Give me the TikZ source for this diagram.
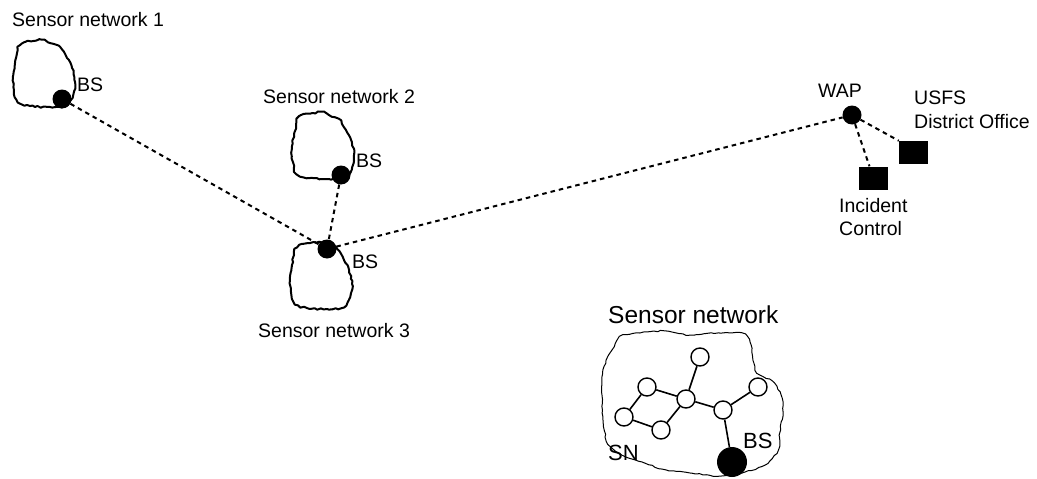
\documentclass[tikz,border=0pt]{standalone}
\usepackage{fontspec}
\setmainfont{Liberation Sans}
\usetikzlibrary{decorations.pathmorphing}
\begin{document}
\begin{tikzpicture}[x=1pt,y=-1pt,
  lbl/.style={anchor=base west,inner sep=0pt,font=\fontsize{19.5}{24}\selectfont},
  titlelbl/.style={anchor=base west,inner sep=0pt,font=\fontsize{24.5}{29}\selectfont},
  netlbl/.style={anchor=base west,inner sep=0pt,font=\fontsize{22}{26}\selectfont},
  station/.style={circle,fill=black,inner sep=0pt,minimum size=19pt},
  bigstation/.style={circle,fill=black,inner sep=0pt,minimum size=30pt},
  office/.style={rectangle,fill=black,inner sep=0pt,minimum width=29pt,minimum height=23pt},
  sensor/.style={circle,draw=black,fill=white,line width=1.4pt,inner sep=0pt,minimum size=18pt},
  link/.style={line width=2pt,dash pattern=on 4.5pt off 4pt},
  wire/.style={line width=1.6pt},
  cloudline/.style={line width=2pt,line join=round,decorate,
    decoration={random steps,segment length=3pt,amplitude=0.8pt}},
  bigcloudline/.style={line width=1pt,line join=round,decorate,
    decoration={random steps,segment length=3.5pt,amplitude=0.7pt}},
  pics/smallcloud/.style={code={
    \draw[cloudline] plot[smooth cycle,tension=0.55] coordinates {
      (5,7) (12,2) (20,1) (29,0) (37,3) (47,7) (54,18) (59,28) (62,42)
      (60,55) (54,65) (37,67) (17,66) (5,62) (1,50) (0,37) (2,23) (4,13)};
  }}
]
\pgfmathsetseed{7}
\path[use as bounding box] (0,0) rectangle (1037,479);

% three small sensor networks
\pic at (13,40) {smallcloud};
\pic at (292,112) {smallcloud};
\pic at (290,242) {smallcloud};

\node[lbl] (t1) at (12,27) {Sensor network 1};
\node[lbl] (t2) at (263,103) {Sensor network 2};
\node[lbl] (t3) at (258,337) {Sensor network 3};

\node[station] (bs1) at (62,99) {};
\node[station] (bs2) at (341,175) {};
\node[station] (bs3) at (327,249) {};
\node[lbl] (l1) at (77,91) {BS};
\node[lbl] (l2) at (356,167) {BS};
\node[lbl] (l3) at (352,268) {BS};

% wireless access point and offices
\node[station] (wap) at (852,115) {};
\node[lbl] (lwap) at (818,97) {WAP};
\node[office] (usfs) at (913.5,152.5) {};
\node[office] (inc) at (873.5,178) {};
\node[lbl] (usfs1) at (914,104) {USFS};
\node[lbl] (usfs2) at (914,128) {District Office};
\node[lbl] (inc1) at (839,212) {Incident};
\node[lbl] (inc2) at (839,235) {Control};

\draw[link] (bs1) -- (bs3);
\draw[link] (bs2) -- (bs3);
\draw[link] (bs3) -- (wap);
\draw[link] (wap) -- (usfs.north west);
\draw[link] (wap) -- (inc);

% detailed sensor network
\draw[bigcloudline] plot[smooth cycle,tension=0.5] coordinates {
  (620,337) (640,333) (665,331) (690,335) (718,333) (742,333) (750,342)
  (753,360) (757,373) (772,381) (781,395) (783,412) (780,432) (778,450)
  (765,465) (745,472) (720,476) (690,473) (662,469) (642,462) (622,455)
  (608,444) (603,420) (602,395) (603,370) (612,350)};
\node[titlelbl] (tbig) at (608,323) {Sensor network};

\node[sensor] (s1) at (700,357) {};
\node[sensor] (s2) at (758,387) {};
\node[sensor] (s3) at (647,387) {};
\node[sensor] (s4) at (686,399) {};
\node[sensor] (s5) at (723,410) {};
\node[sensor] (s6) at (624,417) {};
\node[sensor] (s7) at (661,430) {};
\node[bigstation] (bsn) at (732,462) {};

\draw[wire] (s3) -- (s4);
\draw[wire] (s3) -- (s6);
\draw[wire] (s6) -- (s7);
\draw[wire] (s7) -- (s4);
\draw[wire] (s4) -- (s1);
\draw[wire] (s4) -- (s5);
\draw[wire] (s5) -- (s2);
\draw[wire] (s5) -- (bsn);

\node[netlbl] (sn) at (608,460) {SN};
\node[netlbl] (lbsn) at (743,448) {BS};
\end{tikzpicture}
\end{document}
